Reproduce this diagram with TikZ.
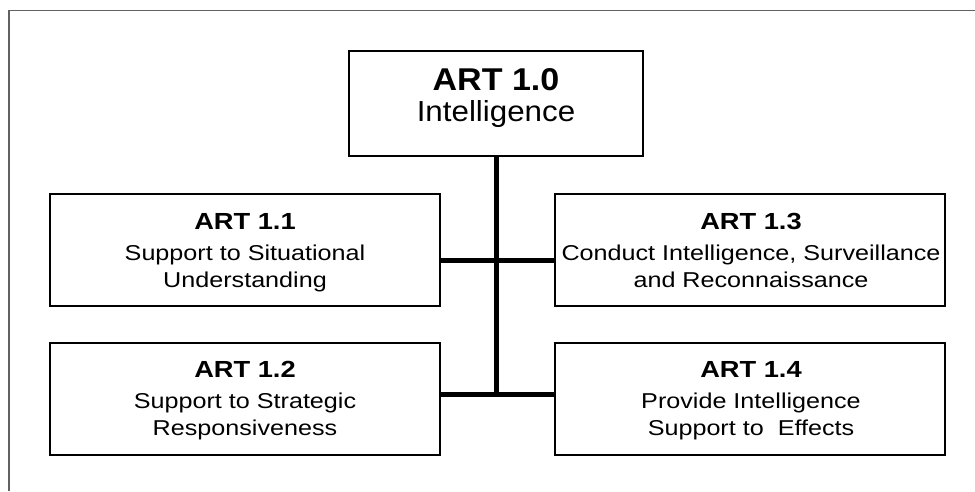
\documentclass[tikz,border=0pt]{standalone}
\usepackage{fontspec}
\setmainfont{Liberation Sans}[FakeStretch=1.17]
\newfontfamily\topfamily{Liberation Sans}[FakeStretch=1.08]
\newfontfamily\subfamily{Liberation Sans}[FakeStretch=1.17]
\begin{document}
\begin{tikzpicture}[x=1pt,y=-1pt,
  artbox/.style={draw=black, line width=2pt, inner sep=0pt, outer sep=0pt, fill=white},
  topbox/.style={artbox, minimum width=294pt, minimum height=105pt},
  subbox/.style={artbox, minimum width=390pt, minimum height=112pt},
  link/.style={draw=black, line width=5pt},
  frame/.style={draw=black!62, line width=1.3pt},
  toptitle/.style={anchor=base, inner sep=0pt, font=\topfamily\fontsize{31.5}{36}\selectfont\bfseries},
  topname/.style={anchor=base, inner sep=0pt, font=\topfamily\fontsize{29}{34}\selectfont},
  subtitle/.style={anchor=base, inner sep=0pt, font=\subfamily\fontsize{23.3}{28}\selectfont\bfseries},
  subname/.style={anchor=base, inner sep=0pt, font=\subfamily\fontsize{21.5}{26}\selectfont}]
\useasboundingbox (0,0) rectangle (975,491);
% outer frame
\draw[frame] (9,491) -- (9,10.7) -- (975,10.7);
% boxes
\node[topbox] (top) at (496,103.5) {};
\node[subbox] (b11) at (245,250) {};
\node[subbox] (b12) at (245,398.5) {};
\node[subbox] (b13) at (750,250) {};
\node[subbox] (b14) at (750,398.5) {};
% connectors
\coordinate (j1) at (496.5,260);
\coordinate (j2) at (496.5,396.5);
\draw[link] (top.south -| j1) -- (j2);
\draw[link] (b11.east |- j1) -- (b13.west |- j1);
\draw[link] (b12.east |- 0,394) -- (b14.west |- 0,394);
% texts
\node[toptitle] (t0a) at (496,90.3) {ART 1.0};
\node[topname]  (t0b) at (496,121.7) {Intelligence};
\node[subtitle] (t1a) at (245,229) {ART 1.1};
\node[subname]  (t1b) at (245,260.5) {Support to Situational};
\node[subname]  (t1c) at (245,287) {Understanding};
\node[subtitle] (t2a) at (245,377) {ART 1.2};
\node[subname]  (t2b) at (245,408.5) {Support to Strategic};
\node[subname]  (t2c) at (245,435) {Responsiveness};
\node[subtitle] (t3a) at (751,229) {ART 1.3};
\node[subname]  (t3b) at (751,260.5) {Conduct Intelligence, Surveillance};
\node[subname]  (t3c) at (751,287) {and Reconnaissance};
\node[subtitle] (t4a) at (751,377) {ART 1.4};
\node[subname]  (t4b) at (751,408.5) {Provide Intelligence};
\node[subname]  (t4c) at (751,435) {Support to\ \ Effects};
\end{tikzpicture}
\end{document}
